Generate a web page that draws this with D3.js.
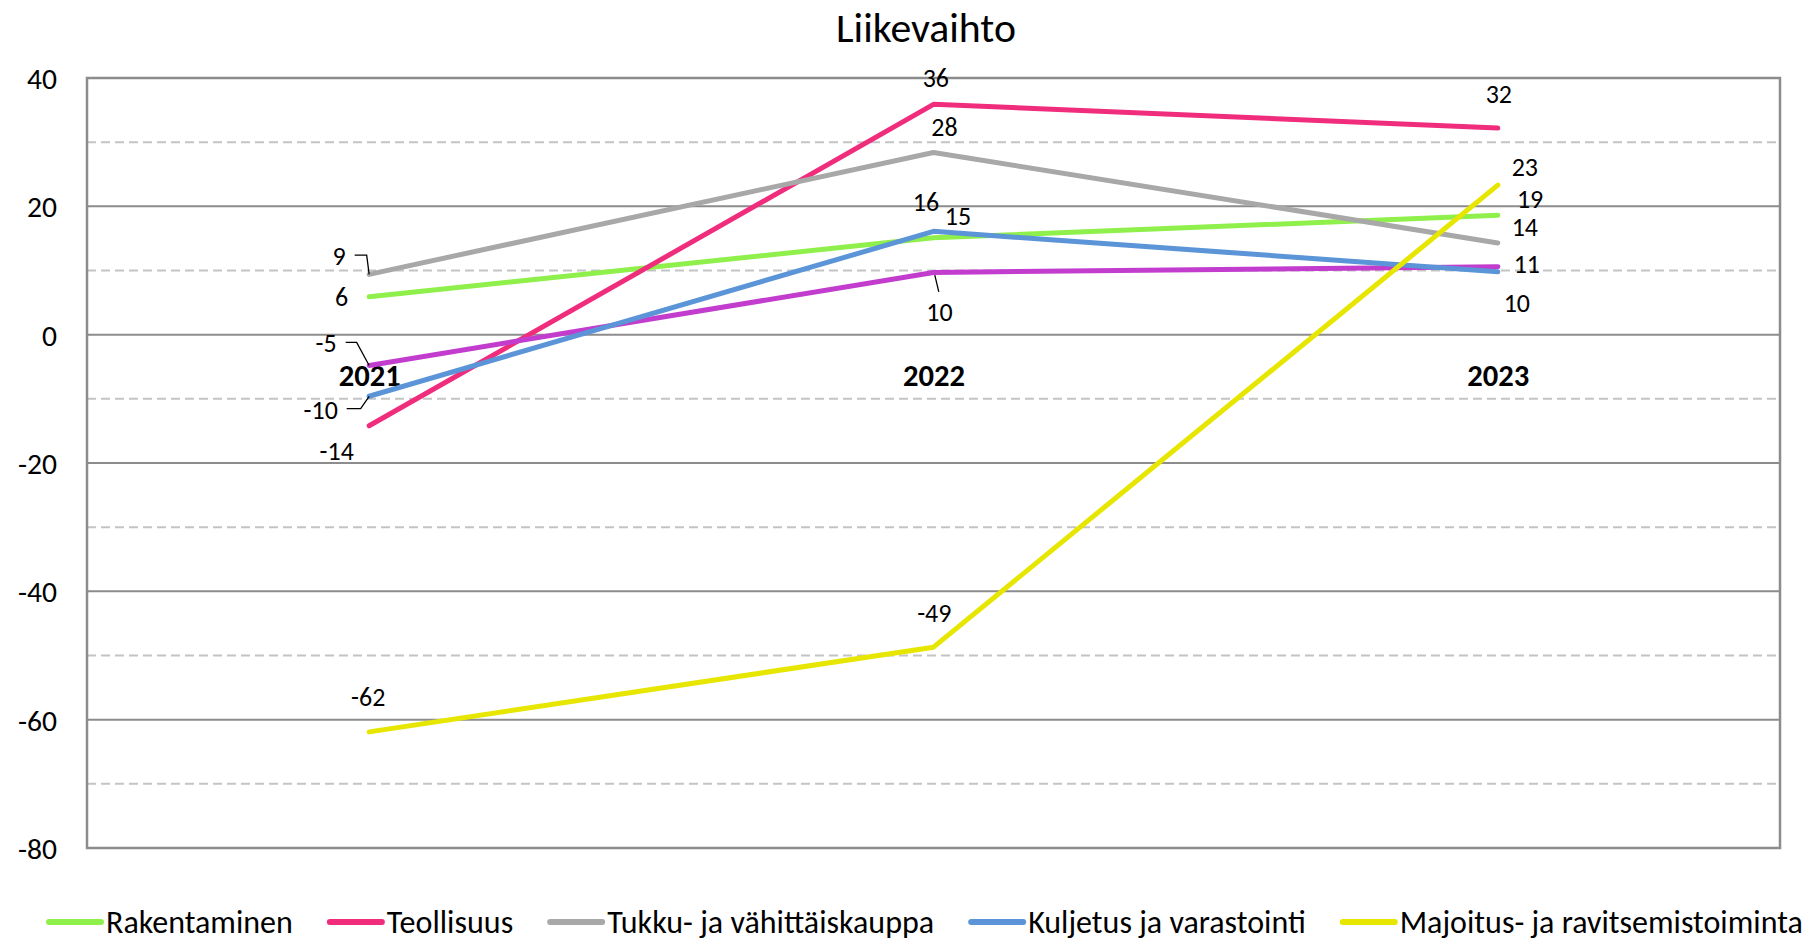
<!DOCTYPE html>
<html>
<head>
<meta charset="utf-8">
<script src="https://cdn.jsdelivr.net/npm/d3@7"></script>
<style>
  html, body { margin: 0; padding: 0; background: #fff; }
  svg { display: block; font-family: Carlito, Calibri, Lato, "Noto Sans", sans-serif; }
</style>
</head>
<body>
<svg id="chart" width="1817" height="944"></svg>
<script>
// ---------------- data ----------------
const title = "Liikevaihto";
const categories = ["2021", "2022", "2023"];
const yTicks = [40, 20, 0, -20, -40, -60, -80];
const yTickLabels = ["40", "20", "0", "-20", "-40", "-60", "-80"];
const yMinorTicks = [30, 10, -10, -30, -50, -70];

const seriesNames = ["Rakentaminen", "Teollisuus", "Tukku- ja vähittäiskauppa",
  "Kuljetus ja varastointi", "Majoitus- ja ravitsemistoiminta", "Palvelut"];
const rakentaminen = [5.9, 15.1, 18.6];
const teollisuus = [-14.2, 35.9, 32.2];
const tukku = [9.4, 28.4, 14.3];
const kuljetus = [-9.6, 16.1, 9.8];
const majoitus = [-61.9, -48.7, 23.3];
const palvelut = [-4.8, 9.7, 10.6];

// ---------------- styling / layout ----------------
const colors = ["#8FEF4B", "#F02D7D", "#A8A8A8", "#5B95D8", "#E6E600", "#C23CCE"];
const inLegend = [true, true, true, true, true, false];
// draw order (bottom -> top)
const drawOrder = [0, 1, 5, 2, 3, 4];
// label offsets [dx (center), dy (baseline)] relative to the point
const labelOffsets = [
  [[-27.5, 9.3], [24.4, -12.3], [32.2, -7.3]],
  [[-32.5, 34.3], [2.3, -17.3], [1, -25]],
  [[-30, -9.3], [11, -16.7], [27, -6.7]],
  [[-48.5, 22.3], [-7.5, -20], [19, 40]],
  [[-1, -25.7], [0.8, -25.6], [27, -9]],
  [[-43, -13], [6, 48.7], [29, 6]]
];
// leader lines: [seriesIndex, categoryIndex, points relative to data point]
const leaders = [
  [2, 0, [[-14.5, -19.3], [-2.5, -19.3], [0, 0]]],
  [5, 0, [[-23.5, -23], [-12.5, -23], [0, 0]]],
  [3, 0, [[-22.5, 12.3], [-8.5, 12.3], [0, 0]]],
  [5, 1, [[1.3, 2.7], [5.3, 19.4]]]
];

const seriesValues = [rakentaminen, teollisuus, tukku, kuljetus, majoitus, palvelut];

const svg = d3.select("#chart");
const plot = { left: 87, right: 1780, top: 78, bottom: 848 };

// font fitting helper: size so that text reaches target width
function fitSize(text, weight, target) {
  const t = svg.append("text").attr("font-size", 100).attr("font-weight", weight).text(text);
  const w = t.node().getComputedTextLength();
  t.remove();
  return 100 * target / w;
}
const fsTitle = fitSize("Liikevaihto", "normal", 180);
const fsTick = fitSize("20", "normal", 30);
const fsLabel = fitSize("36", "normal", 26.3);
const fsCat = fitSize("2022", "bold", 62);
const fsLegend = fitSize("Rakentaminen", "normal", 187);

const x = d3.scalePoint().domain(categories).range([plot.left, plot.right]).padding(0.5);
const y = d3.scaleLinear().domain([-80, 40]).range([plot.bottom, plot.top]);

// title
svg.append("text")
  .attr("x", 926).attr("y", 42)
  .attr("text-anchor", "middle")
  .attr("font-size", fsTitle)
  .attr("fill", "#000")
  .text(title);

// minor dashed gridlines
svg.append("g").selectAll("line").data(yMinorTicks).join("line")
  .attr("x1", plot.left).attr("x2", plot.right)
  .attr("y1", d => y(d)).attr("y2", d => y(d))
  .attr("stroke", "#C4C4C4").attr("stroke-width", 2)
  .attr("stroke-dasharray", "9,5");

// major gridlines
svg.append("g").selectAll("line").data(yTicks).join("line")
  .attr("x1", plot.left).attr("x2", plot.right)
  .attr("y1", d => y(d)).attr("y2", d => y(d))
  .attr("stroke", "#8C8C8C").attr("stroke-width", 2);

// frame
svg.append("rect")
  .attr("x", plot.left).attr("y", plot.top)
  .attr("width", plot.right - plot.left).attr("height", plot.bottom - plot.top)
  .attr("fill", "none").attr("stroke", "#8C8C8C").attr("stroke-width", 2.5);

// y axis labels
const yAxis = svg.append("g")
  .attr("transform", `translate(${plot.left},0)`)
  .call(d3.axisLeft(y).tickValues(yTicks).tickSize(0).tickPadding(30)
    .tickFormat((d, i) => yTickLabels[i]));
yAxis.select(".domain").remove();
yAxis.selectAll("text")
  .attr("font-size", fsTick)
  .attr("font-family", "Carlito, Calibri, Lato, sans-serif")
  .attr("fill", "#000")
  .attr("dy", "0.36em");

// category labels at the zero line
const xAxis = svg.append("g")
  .attr("transform", `translate(0,${y(0)})`)
  .call(d3.axisBottom(x).tickSize(0).tickPadding(0));
xAxis.select(".domain").remove();
xAxis.selectAll("text")
  .attr("font-size", fsCat)
  .attr("font-weight", "bold")
  .attr("font-family", "Carlito, Calibri, Lato, sans-serif")
  .attr("fill", "#000")
  .attr("y", 51).attr("dy", 0);

// lines
const line = d3.line().x((d, i) => x(categories[i])).y(d => y(d));
const gLines = svg.append("g");
drawOrder.forEach(si => {
  gLines.append("path")
    .datum(seriesValues[si])
    .attr("d", line)
    .attr("fill", "none")
    .attr("stroke", colors[si])
    .attr("stroke-width", 5)
    .attr("stroke-linecap", "round")
    .attr("stroke-linejoin", "round");
});

// leader lines
const gLead = svg.append("g");
leaders.forEach(([si, ci, pts]) => {
  const px = x(categories[ci]), py = y(seriesValues[si][ci]);
  gLead.append("path")
    .attr("d", d3.line()(pts.map(p => [px + p[0], py + p[1]])))
    .attr("fill", "none").attr("stroke", "#000").attr("stroke-width", 1.3);
});

// data labels
const gLab = svg.append("g");
seriesValues.forEach((vals, si) => {
  vals.forEach((v, ci) => {
    const off = labelOffsets[si][ci];
    gLab.append("text")
      .attr("x", x(categories[ci]) + off[0])
      .attr("y", y(v) + off[1])
      .attr("text-anchor", "middle")
      .attr("font-size", fsLabel)
      .attr("fill", "#000")
      .text(Math.round(v));
  });
});

// legend
const legend = svg.append("g").attr("transform", "translate(49,922)");
let lx = 0;
seriesNames.forEach((name, si) => {
  if (!inLegend[si]) return;
  const g = legend.append("g").attr("transform", `translate(${lx},0)`);
  g.append("line").attr("x1", 0).attr("x2", 52).attr("y1", 0).attr("y2", 0)
    .attr("stroke", colors[si]).attr("stroke-width", 6).attr("stroke-linecap", "round");
  const t = g.append("text").attr("x", 57).attr("y", 0).attr("dy", "0.34em")
    .attr("font-size", fsLegend).attr("fill", "#000").text(name);
  lx += 57 + t.node().getComputedTextLength() + 37;
});
</script>
</body>
</html>
